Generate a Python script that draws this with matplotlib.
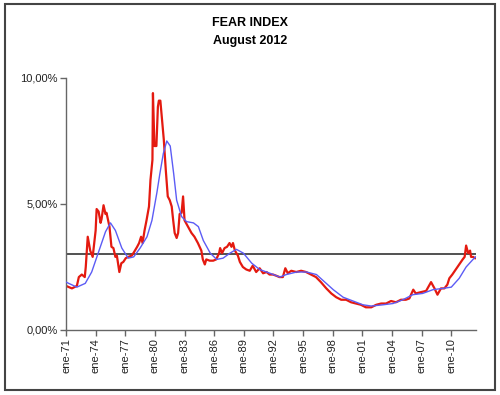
import numpy as np
import matplotlib.pyplot as plt
from matplotlib.patches import Rectangle

plt.rcParams['font.family'] = ['Liberation Sans', 'DejaVu Sans']

# fear index (red): decimal year, percent
red_years = [1971.0, 1971.6, 1972.1, 1972.3, 1972.6, 1972.9, 1973.0, 1973.2, 1973.45, 1973.7,
             1974.0, 1974.1, 1974.3, 1974.5, 1974.6, 1974.8, 1975.0, 1975.1, 1975.4, 1975.6,
             1975.8, 1976.0, 1976.15, 1976.4, 1976.6, 1976.8, 1977.05, 1977.3, 1977.65, 1977.9,
             1978.2, 1978.4, 1978.6, 1978.75, 1978.95, 1979.15, 1979.4, 1979.55, 1979.75, 1979.8,
             1979.95, 1980.15, 1980.3, 1980.4, 1980.55, 1980.7, 1980.9, 1981.1, 1981.3, 1981.5,
             1981.7, 1981.85, 1982.0, 1982.2, 1982.35, 1982.5, 1982.7, 1982.85, 1983.0, 1983.35,
             1983.7, 1984.0, 1984.35, 1984.7, 1984.85, 1985.05, 1985.2, 1985.55, 1985.9, 1986.2,
             1986.5, 1986.6, 1986.8, 1987.05, 1987.3, 1987.55, 1987.75, 1987.9, 1988.1, 1988.4,
             1988.6, 1988.9, 1989.25, 1989.6, 1989.9, 1990.25, 1990.6, 1990.95, 1991.3, 1991.6,
             1991.95, 1992.3, 1992.6, 1992.95, 1993.2, 1993.45, 1993.8, 1994.3, 1994.8, 1995.3,
             1995.8, 1996.3, 1996.8, 1997.35, 1997.85, 1998.35, 1998.85, 1999.35, 1999.85, 2000.35,
             2000.85, 2001.35, 2001.9, 2002.4, 2002.9, 2003.4, 2003.9, 2004.4, 2004.9, 2005.4,
             2005.75, 2006.15, 2006.4, 2006.9, 2007.45, 2007.95, 2008.3, 2008.6, 2008.95, 2009.3,
             2009.6, 2009.8, 2010.1, 2010.45, 2010.8, 2011.15, 2011.35, 2011.5, 2011.7, 2011.9,
             2012.0, 2012.2, 2012.4]
red_vals = [1.75, 1.65, 1.75, 2.1, 2.2, 2.1, 2.5, 3.7, 3.15, 2.9,
            3.95, 4.8, 4.7, 4.25, 4.4, 4.95, 4.6, 4.65, 4.1, 3.3,
            3.25, 2.9, 2.95, 2.3, 2.65, 2.7, 2.85, 2.9, 2.95, 3.1,
            3.3, 3.45, 3.7, 3.45, 3.95, 4.35, 4.9, 5.95, 6.75, 9.4,
            7.3, 7.3, 8.85, 9.1, 9.1, 8.45, 7.55, 6.35, 5.3, 5.15,
            4.9, 4.35, 3.85, 3.65, 3.85, 4.6, 4.65, 5.3, 4.35, 4.1,
            3.85, 3.7, 3.45, 3.15, 2.8, 2.6, 2.8, 2.75, 2.75, 2.8,
            3.05, 3.25, 3.05, 3.25, 3.3, 3.45, 3.3, 3.45, 3.15, 2.95,
            2.7, 2.5, 2.4, 2.35, 2.55, 2.3, 2.45, 2.25, 2.3, 2.2,
            2.2, 2.15, 2.1, 2.1, 2.45, 2.25, 2.35, 2.3, 2.35, 2.3,
            2.2, 2.1, 1.9, 1.65, 1.45, 1.3, 1.2, 1.2, 1.1, 1.05,
            1.0, 0.9, 0.9, 1.0, 1.05, 1.05, 1.15, 1.1, 1.2, 1.2,
            1.25, 1.6, 1.45, 1.5, 1.55, 1.9, 1.65, 1.4, 1.65, 1.65,
            1.8, 2.05, 2.2, 2.4, 2.6, 2.8, 2.9, 3.35, 3.05, 3.15,
            2.9, 2.9, 2.85]

# moving average (blue)
blue_years = [1971.0, 1972.1, 1972.95, 1973.6, 1974.3, 1975.0, 1975.5, 1976.0, 1976.65, 1977.3,
              1977.85, 1978.5, 1979.2, 1979.7, 1980.2, 1980.5, 1980.85, 1981.2, 1981.55, 1981.9,
              1982.2, 1982.7, 1983.2, 1983.9, 1984.4, 1984.9, 1985.6, 1986.25, 1986.9, 1987.6,
              1988.25, 1988.95, 1989.8, 1990.6, 1991.65, 1992.65, 1993.3, 1994.35, 1995.35, 1996.35,
              1997.2, 1998.05, 1999.05, 2000.05, 2001.05, 2001.9, 2003.1, 2004.1, 2005.1, 2006.1,
              2007.1, 2008.15, 2009.15, 2010.0, 2010.8, 2011.5, 2012.2, 2012.45]
blue_vals = [1.9, 1.7, 1.85, 2.3, 3.1, 3.9, 4.25, 3.95, 3.25, 2.85,
             2.9, 3.25, 3.7, 4.35, 5.45, 6.2, 7.0, 7.5, 7.3, 6.2,
             5.15, 4.5, 4.3, 4.25, 4.1, 3.55, 3.05, 2.8, 2.85, 3.05,
             3.2, 3.05, 2.65, 2.4, 2.25, 2.1, 2.2, 2.3, 2.3, 2.2,
             1.9, 1.6, 1.3, 1.15, 1.0, 0.95, 1.0, 1.05, 1.2, 1.4,
             1.45, 1.6, 1.65, 1.7, 2.05, 2.5, 2.8, 2.9]

threshold = 3.0
tick_years = list(range(1971, 2011, 3))
tick_labels = ['ene-%02d' % (y % 100) for y in tick_years]
y_ticks = [0, 5, 10]
y_labels = ['0,00%', '5,00%', '10,00%']

fig = plt.figure(figsize=(5, 3.95), dpi=100)
ax = fig.add_axes([0.132, 0.1646, 0.82, 0.638])

ax.axhline(threshold, color='#333333', lw=1.2, zorder=1)
ax.plot(red_years, red_vals, color='#e41a10', lw=1.6, zorder=2)
ax.plot(blue_years, blue_vals, color='#5c5cf5', lw=1.0, zorder=3)

ax.set_xlim(1971, 2012.5)
ax.set_ylim(0, 10)
ax.set_xticks(tick_years)
ax.set_xticklabels(tick_labels, rotation=90, fontsize=8, color='#222222')
ax.set_yticks(y_ticks)
ax.set_yticklabels(y_labels, fontsize=8, color='#222222')
ax.tick_params(direction='out', length=4, width=1, color='#666666', pad=2)

for s in ['top', 'right']:
    ax.spines[s].set_visible(False)
for s in ['left', 'bottom']:
    ax.spines[s].set_color('#666666')
    ax.spines[s].set_linewidth(1)

fig.text(0.5, 0.942, 'FEAR INDEX', ha='center', va='center', fontsize=9, fontweight='bold')
fig.text(0.5, 0.895, 'August 2012', ha='center', va='center', fontsize=9, fontweight='bold')

# outer frame
fig.patches.append(Rectangle((0.009, 0.013), 0.98, 0.976, transform=fig.transFigure,
                             fill=False, edgecolor='#444444', lw=1.5))

plt.savefig('out.png', dpi=100)
